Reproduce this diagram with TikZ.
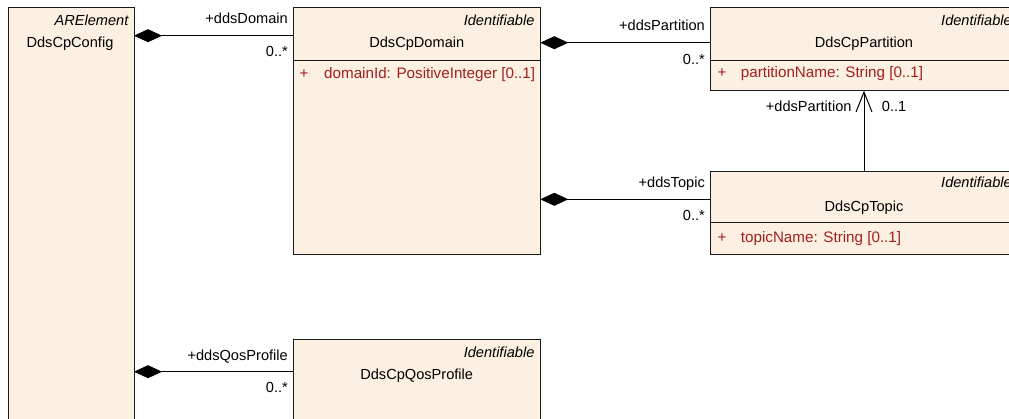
\documentclass[tikz,border=0pt]{standalone}
\usepackage{fontspec}
\setmainfont{Liberation Sans}
\usetikzlibrary{arrows.meta, positioning}
\definecolor{classfill}{HTML}{FBF0E2}
\definecolor{attrred}{HTML}{A31F1F}
\definecolor{darkline}{HTML}{1A1A1A}
\tikzset{
  classbox/.style={
    rectangle, draw=darkline, line width=1pt,
    fill=classfill, anchor=north west,
    inner sep=0pt, outer sep=0pt,
  },
  lbl/.style={inner sep=0pt, font=\fontsize{14.6}{17}\selectfont},
  stereo/.style={lbl, font=\fontsize{14.6}{17}\selectfont\itshape, anchor=base east},
  clsname/.style={lbl, anchor=base},
  attrtext/.style={lbl, font=\fontsize{15.2}{17}\selectfont, text=attrred, anchor=base west},
  role/.style={lbl, anchor=base east},
  comp/.style={{Diamond[length=28pt, width=13pt]}-, line width=1pt, color=black},
  navig/.style={-{Straight Barb[length=20pt, width=16pt]}, line width=1pt, color=black},
}

\begin{document}
\begin{tikzpicture}[x=1pt, y=1pt]
  \useasboundingbox (0,0) rectangle (1009,-418);
  \clip (0,0) rectangle (1009,-418);

  % Classes
  \node[classbox, minimum width=126, minimum height=430] (config) at (8,-7.3) {};
  \node[classbox, minimum width=247, minimum height=52.7] (domain) at (293.3,-7.3) {};
  \node[classbox, minimum width=247, minimum height=194, below=0pt of domain] (domainattr) {};
  \node[classbox, minimum width=307.4, minimum height=52.7] (partition) at (710.3,-7.3) {};
  \node[classbox, minimum width=307.4, minimum height=30.7, below=0pt of partition] (partitionattr) {};
  \node[classbox, minimum width=307.4, minimum height=51] (topic) at (710.3,-171.7) {};
  \node[classbox, minimum width=307.4, minimum height=31.3, below=0pt of topic] (topicattr) {};
  \node[classbox, minimum width=247, minimum height=100] (qos) at (293.3,-339.3) {};

  % Class headers
  \node[stereo] (configstereo) at (128.6,-25.7) {ARElement};
  \node[clsname] (configname) at (70,-47.7) {DdsCpConfig};
  \node[stereo] (domainstereo) at (534.6,-25.7) {Identifiable};
  \node[clsname] (domainname) at (416.8,-47.7) {DdsCpDomain};
  \node[stereo] (partitionstereo) at (1012,-25.7) {Identifiable};
  \node[clsname] (partitionname) at (864,-47.7) {DdsCpPartition};
  \node[stereo] (topicstereo) at (1012,-187.7) {Identifiable};
  \node[clsname] (topicname) at (864,-211.7) {DdsCpTopic};
  \node[stereo] (qosstereo) at (534.6,-357.7) {Identifiable};
  \node[clsname] (qosname) at (416.7,-379.3) {DdsCpQosProfile};

  % Attributes
  \node[attrtext] (domainplus) at (299.5,-78.3) {+};
  \node[attrtext] (domainid) at (324,-78.3) {domainId: PositiveInteger [0..1]};
  \node[attrtext] (partitionplus) at (717.5,-77.7) {+};
  \node[attrtext] (partitionattrname) at (740.7,-77.7) {partitionName: String [0..1]};
  \node[attrtext] (topicplus) at (717.5,-242.3) {+};
  \node[attrtext] (topicattrname) at (740.7,-242.3) {topicName: String [0..1]};

  % Compositions
  \draw[comp] ([yshift=-28.4pt]config.north east) -- ([yshift=-28.4pt]domain.north west);
  \draw[comp] ([yshift=-35.4pt]domain.north east) -- ([yshift=-35.4pt]partition.north west);
  \draw[comp] ([yshift=-192pt]domain.north east) -- ([yshift=-27.6pt]topic.north west);
  \draw[comp] ([yshift=-364.4pt]config.north east) -- ([yshift=-32.4pt]qos.north west);

  % Navigable association
  \draw[navig] (topic.north) -- (partitionattr.south);

  % Role names and multiplicities
  \node[role] (rdomain) at (288,-23.3) {+ddsDomain};
  \node[role] (mdomain) at (288,-56.7) {0..*};
  \node[role] (rpartition) at (705,-30) {+ddsPartition};
  \node[role] (mpartition) at (705,-64) {0..*};
  \node[role] (rtopic) at (705,-187.7) {+ddsTopic};
  \node[role] (mtopic) at (705,-220) {0..*};
  \node[role] (rqos) at (288,-360) {+ddsQosProfile};
  \node[role] (mqos) at (288,-392.3) {0..*};
  \node[role] (rtopicpart) at (851.7,-111.7) {+ddsPartition};
  \node[lbl, anchor=base west] (mtopicpart) at (881.7,-111.7) {0..1};

\end{tikzpicture}
\end{document}
